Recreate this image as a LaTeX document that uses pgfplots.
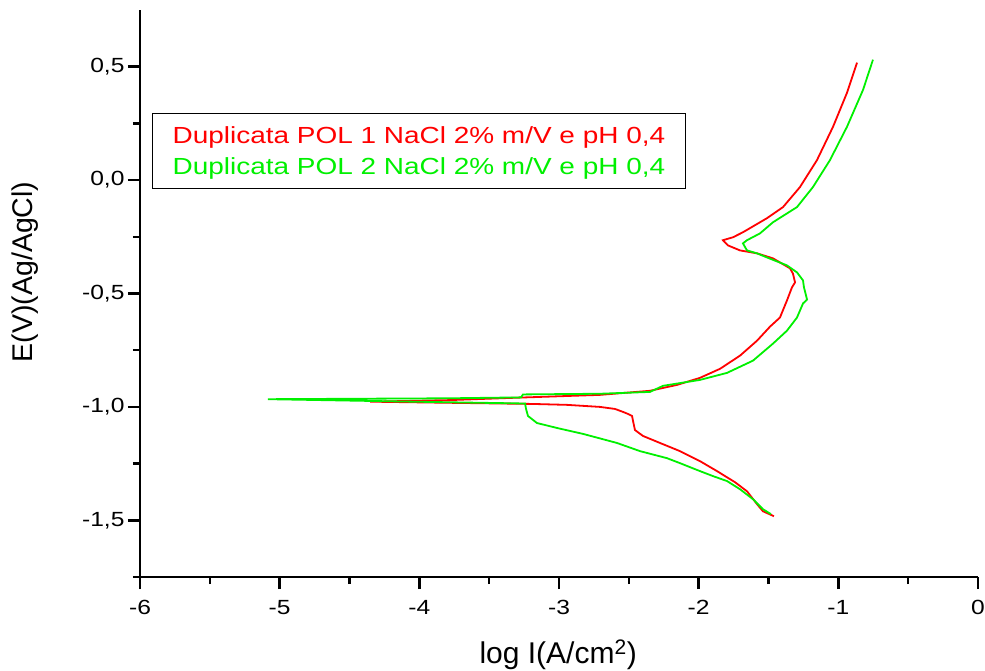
\documentclass[border=0pt]{standalone}
\usepackage{pgfplots}
\pgfplotsset{compat=1.18}
\usepackage{fontspec}
\setmainfont{Liberation Sans}
\newfontfamily\widefont{Liberation Sans}[FakeStretch=1.2]
\definecolor{cred}{RGB}{255,0,0}
\definecolor{cgreen}{RGB}{0,240,0}
\pgfplotstableread{
x y
-1.461 -1.482
-1.540 -1.460
-1.582 -1.429
-1.654 -1.372
-1.740 -1.332
-1.869 -1.283
-1.991 -1.239
-2.134 -1.195
-2.277 -1.159
-2.399 -1.128
-2.456 -1.102
-2.470 -1.062
-2.477 -1.040
-2.506 -1.031
-2.542 -1.022
-2.599 -1.009
-2.707 -1.000
-2.943 -0.991
-3.186 -0.987
-3.781 -0.982
-4.353 -0.977
-3.781 -0.970
-3.329 -0.960
-2.707 -0.947
-2.349 -0.929
-2.155 -0.903
-1.991 -0.872
-1.847 -0.832
-1.704 -0.774
-1.582 -0.708
-1.489 -0.646
-1.418 -0.606
-1.368 -0.531
-1.332 -0.473
-1.310 -0.451
-1.325 -0.412
-1.346 -0.389
-1.468 -0.345
-1.582 -0.323
-1.704 -0.310
-1.790 -0.288
-1.826 -0.265
-1.754 -0.252
-1.683 -0.230
-1.511 -0.168
-1.396 -0.119
-1.275 -0.031
-1.153 0.088
-1.038 0.235
-0.938 0.385
-0.866 0.518
}\polone
\pgfplotstableread{
x y
-1.482 -1.473
-1.540 -1.451
-1.611 -1.407
-1.704 -1.363
-1.797 -1.327
-1.898 -1.305
-1.991 -1.283
-2.134 -1.248
-2.227 -1.226
-2.420 -1.195
-2.585 -1.159
-2.828 -1.119
-3.014 -1.093
-3.158 -1.071
-3.222 -1.040
-3.236 -1.009
-3.243 -0.985
-4.139 -0.976
-5.084 -0.966
-3.781 -0.962
-3.272 -0.958
-3.258 -0.945
-2.707 -0.942
-2.349 -0.934
-2.255 -0.907
-1.991 -0.881
-1.797 -0.850
-1.611 -0.796
-1.468 -0.721
-1.368 -0.664
-1.296 -0.606
-1.253 -0.544
-1.224 -0.527
-1.246 -0.473
-1.253 -0.442
-1.296 -0.407
-1.368 -0.376
-1.511 -0.341
-1.582 -0.323
-1.654 -0.310
-1.683 -0.279
-1.654 -0.265
-1.561 -0.235
-1.468 -0.186
-1.296 -0.119
-1.182 -0.031
-1.060 0.088
-0.938 0.235
-0.823 0.398
-0.752 0.531
}\poltwo
\begin{document}
\begin{tikzpicture}
\begin{axis}[
  at={(140pt,93pt)}, anchor=south west,
  scale only axis, width=838pt, height=567pt,
  xmin=-6, xmax=0, ymin=-1.75, ymax=0.75,
  axis x line*=bottom, axis y line*=left,
  axis line style={line width=2.6pt, black, -},
  x axis line style={shorten <=-7pt},
  tick align=outside,
  major tick length=12pt, minor tick length=7pt,
  tick style={black, line width=2.5pt},
  xtick={-6,-5,-4,-3,-2,-1,0},
  xticklabels={-6,-5,-4,-3,-2,-1,0},
  ytick={-1.5,-1,-0.5,0,0.5},
  yticklabels={{-1,5},{-1,0},{-0,5},{0,0},{0,5}},
  minor x tick num=1, minor y tick num=1,
  ticklabel style={font=\widefont\fontsize{20.5}{24}\selectfont},
  xticklabel style={anchor=north, yshift=-8pt},
  yticklabel style={anchor=east, xshift=0pt},
  xlabel={log I(A/cm\textsuperscript{2})},
  ylabel={E(V)(Ag/AgCl)},
  xlabel style={font=\fontsize{30}{36}\selectfont, at={(axis description cs:0.499,-0.153)}, anchor=base},
  ylabel style={font=\fontsize{28.5}{34}\selectfont, at={(axis description cs:-0.137,0.538)}, anchor=center, rotate=0},
  legend image code/.code={},
  legend cell align=center,
  legend style={at={(axis description cs:0.0143,0.818)}, anchor=north west,
    draw=black, line width=1.2pt, inner xsep=18pt, inner ysep=11pt,
    font=\widefont\fontsize{23.3}{28}\selectfont, row sep=8pt},
  clip=false,
]
\addplot[cred, line width=1.8pt] table[x=x,y=y]{\polone};
\addlegendentry{\textcolor{cred}{Duplicata POL 1 NaCl 2\% m/V e pH 0,4}}
\addplot[cgreen, line width=1.8pt] table[x=x,y=y]{\poltwo};
\addlegendentry{\textcolor{cgreen}{Duplicata POL 2 NaCl 2\% m/V e pH 0,4}}
\end{axis}
\pgfresetboundingbox
\useasboundingbox (0,0) rectangle (985pt,670pt);
\end{tikzpicture}
\end{document}
